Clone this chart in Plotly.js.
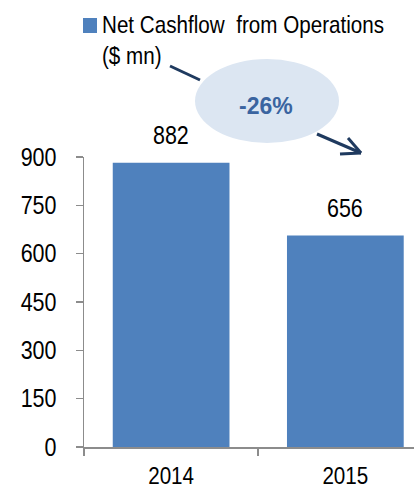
<!DOCTYPE html>
<html><head><meta charset="utf-8">
<script src="https://cdn.plot.ly/plotly-3.0.1.min.js"></script>
<style>html,body{margin:0;padding:0;background:#fff}#c{width:414px;height:492px}</style>
</head><body><div id="c"></div>
<script>
const years = ['2014', '2015'];
const cashflow = [882, 656];
const yTicks = [0, 150, 300, 450, 600, 750, 900];
const seriesName = 'Net Cashflow  from Operations<br>($ mn)';

const FONT = '"Liberation Sans Narrow", "Arial Narrow", "Liberation Sans", Arial, sans-serif';
const NARROW = 0.86;  // horizontal squeeze to imitate a narrow face
const W = 414, H = 492;
const L = 84, R = 0, T = 157, B = 45;
const pw = W - L - R, ph = H - T - B;
const px = x => (x - L) / pw;
const py = y => (H - B - y) / ph;

const change = Math.round((cashflow[1] - cashflow[0]) / cashflow[0] * 100);

const trace = {
  type: 'bar', x: years, y: cashflow, name: seriesName,
  marker: {color: '#4f81bd'}, width: 0.67, showlegend: false, hoverinfo: 'none'
};

const annotations = years.map((yr, i) => ({
  x: i, y: cashflow[i], xref: 'x', yref: 'y', text: String(cashflow[i]),
  showarrow: false, yanchor: 'bottom', yshift: 12,
  font: {family: FONT, size: 25, color: '#000'}
}));
annotations.push({
  xref: 'paper', yref: 'paper', x: px(100), y: py(9), xanchor: 'left', yanchor: 'top',
  align: 'left', text: seriesName, showarrow: false,
  font: {family: FONT, size: 24, color: '#000'}
});
annotations.push({
  xref: 'paper', yref: 'paper', x: px(266), y: py(106), xanchor: 'center', yanchor: 'middle',
  text: '<b>' + change + '%</b>', showarrow: false,
  font: {family: 'Liberation Sans, Arial, sans-serif', size: 23, color: '#3a64a0'}
});

const lineStyle = {color: '#1f3a5f', width: 3};
const shapes = [
  {type: 'rect', xref: 'paper', yref: 'paper', x0: px(83), x1: px(97), y0: py(33), y1: py(18),
   fillcolor: '#4f81bd', line: {width: 0}},
  {type: 'circle', xref: 'paper', yref: 'paper', x0: px(195), x1: px(339), y0: py(143), y1: py(59),
   fillcolor: '#dce6f2', line: {width: 0}, layer: 'above'},
  {type: 'line', xref: 'paper', yref: 'paper', x0: px(170), y0: py(66), x1: px(200), y1: py(80), line: lineStyle},
  {type: 'line', xref: 'paper', yref: 'paper', x0: px(317), y0: py(134), x1: px(361), y1: py(153), line: lineStyle},
  {type: 'line', xref: 'paper', yref: 'paper', x0: px(348), y0: py(138), x1: px(361), y1: py(153), line: lineStyle},
  {type: 'line', xref: 'paper', yref: 'paper', x0: px(340), y0: py(154), x1: px(361), y1: py(153), line: lineStyle}
];

const layout = {
  width: W, height: H, margin: {l: L, r: R, t: T, b: B},
  paper_bgcolor: '#fff', plot_bgcolor: '#fff', showlegend: false,
  font: {family: FONT, size: 24, color: '#000'},
  xaxis: {
    type: 'category', range: [-0.5, 1.394], showgrid: false, zeroline: false,
    showline: true, linecolor: '#8c8c8c', linewidth: 1.5,
    ticks: 'outside', tickson: 'boundaries', ticklen: 7, tickcolor: '#8c8c8c', tickwidth: 1.5,
    tickfont: {family: FONT, size: 24, color: '#000'}, ticklabelstandoff: 7
  },
  yaxis: {
    range: [0, 900], tickvals: yTicks, ticktext: yTicks.map(String), showgrid: false, zeroline: false,
    showline: true, linecolor: '#8c8c8c', linewidth: 1.5,
    ticks: 'outside', ticklen: 7, tickcolor: '#8c8c8c', tickwidth: 1.5,
    tickfont: {family: FONT, size: 25, color: '#000'}, ticklabelstandoff: 14
  },
  annotations: annotations, shapes: shapes
};

Plotly.newPlot('c', [trace], layout, {staticPlot: true, displayModeBar: false}).then(() => {
  document.querySelectorAll('#c svg text').forEach(t => {
    if (t.textContent.indexOf('%') >= 0) return;
    const x = parseFloat(t.getAttribute('x')) || 0;
    const prev = t.getAttribute('transform') || '';
    t.setAttribute('transform', (prev + ' translate(' + x + ',0) scale(' + NARROW + ',1) translate(' + (-x) + ',0)').trim());
  });
});
</script></body></html>
